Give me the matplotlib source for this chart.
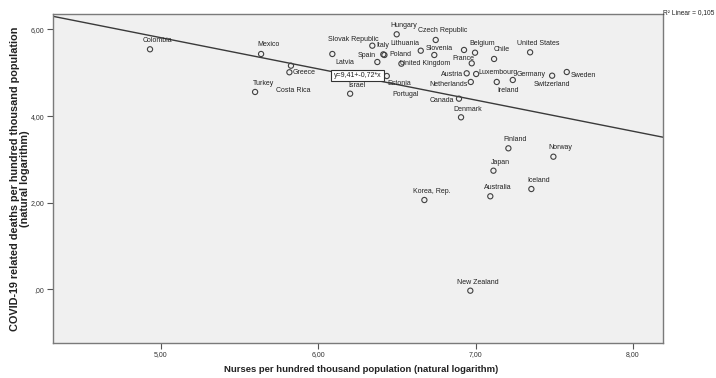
import numpy as np
import matplotlib
matplotlib.use("Agg")
import matplotlib.pyplot as plt

# OECD countries: ln(nurses per 100k) vs ln(COVID-19 deaths per 100k)
countries = [
    "Colombia", "Mexico", "Costa Rica", "Greece", "Turkey", "Slovak Republic",
    "Latvia", "Italy", "Spain", "Poland", "Hungary", "Czech Republic",
    "Lithuania", "Slovenia", "United Kingdom", "France", "Portugal", "Belgium",
    "Chile", "United States", "Austria", "Luxembourg", "Netherlands", "Ireland",
    "Germany", "Switzerland", "Sweden", "Estonia", "Israel", "Canada",
    "Denmark", "Finland", "Norway", "Japan", "Iceland", "Korea, Rep.",
    "Australia", "New Zealand",
]
nurses_ln = [
    4.930, 5.636, 5.826, 5.816, 5.598, 6.089,
    6.375, 6.343, 6.413, 6.420, 6.498, 6.746,
    6.651, 6.737, 6.528, 6.975, 6.926, 6.996,
    7.117, 7.346, 6.943, 7.003, 6.969, 7.134,
    7.236, 7.486, 7.579, 6.435, 6.202, 6.894,
    6.907, 7.208, 7.494, 7.113, 7.354, 6.674,
    7.093, 6.966,
]
deaths_ln = [
    5.543, 5.434, 5.164, 5.012, 4.557, 5.434,
    5.249, 5.626, 5.425, 5.411, 5.889, 5.758,
    5.510, 5.411, 5.210, 5.219, 5.527, 5.464,
    5.319, 5.473, 4.988, 4.972, 4.788, 4.788,
    4.834, 4.933, 5.018, 4.926, 4.517, 4.402,
    3.972, 3.256, 3.062, 2.739, 2.316, 2.062,
    2.148, -0.032,
]

# Linear fit reported on the chart
fit_intercept = 9.41
fit_slope = -0.72
r2_linear = 0.105

x_ticks = [5, 6, 7, 8]
x_tick_labels = ["5,00", "6,00", "7,00", "8,00"]
y_ticks = [0, 2, 4, 6]
y_tick_labels = [",00", "2,00", "4,00", "6,00"]

# Label placement (offset in pixels from each point)
label_offsets = {
    "Colombia": (7, 9), "Mexico": (7, 9), "Costa Rica": (2, -25),
    "Greece": (15, 0), "Turkey": (8, 8), "Slovak Republic": (21, 14),
    "Latvia": (-33, 0), "Italy": (11, 0), "Spain": (-17, -1),
    "Poland": (16, 0), "Hungary": (7, 9), "Czech Republic": (7, 9),
    "Lithuania": (-16, 7), "Slovenia": (5, 6), "United Kingdom": (24, 0),
    "France": (-8, 5), "Portugal": (-58, -45), "Belgium": (7, 9),
    "Chile": (8, 9), "United States": (8, 9), "Austria": (-15, -1),
    "Luxembourg": (22, 2), "Netherlands": (-22, -3), "Ireland": (11, -9),
    "Germany": (18, 5), "Switzerland": (0, -9), "Sweden": (17, -3),
    "Estonia": (12, -8), "Israel": (7, 8), "Canada": (-17, -2),
    "Denmark": (7, 8), "Finland": (7, 9), "Norway": (7, 9), "Japan": (7, 8),
    "Iceland": (7, 9), "Korea, Rep.": (7, 9), "Australia": (7, 9),
    "New Zealand": (7, 8),
}

label_font = ["Liberation Sans Narrow", "Liberation Sans", "DejaVu Sans"]
title_font = ["Liberation Sans", "DejaVu Sans"]
label_size = 5.0

fig = plt.figure(figsize=(7.16, 3.78), dpi=100)
fig.patch.set_facecolor("white")
ax = fig.add_axes([0.0736, 0.0926, 0.8520, 0.8704])
ax.set_facecolor("#f0f0f0")

xmin, xmax = 4.3115, 8.189
ymin, ymax = -1.240, 6.358
ax.set_xlim(xmin, xmax)
ax.set_ylim(ymin, ymax)

# Fit line across the full x range
xs = np.array([xmin, xmax])
ax.plot(xs, fit_intercept + fit_slope * xs, color="#3a3a3a", lw=1.0, zorder=2)

ax.scatter(nurses_ln, deaths_ln, s=14, facecolors="none",
           edgecolors="#404040", linewidths=0.8, zorder=3)

for name, x, y in zip(countries, nurses_ln, deaths_ln):
    dx, dy = label_offsets[name]
    ax.annotate(name, (x, y), xytext=(dx, dy), textcoords="offset pixels",
                ha="center", va="center", fontsize=label_size, color="#222222",
                family=label_font, zorder=4)

# Equation box
ax.text(6.249, 4.938, "y=9,41+-0,72*x", ha="center", va="center",
        fontsize=label_size, color="#222222", family=label_font, zorder=5,
        bbox=dict(boxstyle="square,pad=0.35", facecolor="white",
                  edgecolor="#333333", linewidth=0.8))

fig.text(663 / 716, 1 - 13 / 378,
         "R\u00b2 Linear = " + f"{r2_linear:.3f}".replace(".", ","),
         ha="left", va="center", fontsize=4.8, color="#222222",
         family=label_font)

ax.set_xticks(x_ticks)
ax.set_xticklabels(x_tick_labels)
ax.set_yticks(y_ticks)
ax.set_yticklabels(y_tick_labels)
ax.tick_params(axis="both", direction="out", length=4, width=0.8,
               color="#555555", labelsize=label_size, labelcolor="#333333", pad=2)
for lbl in ax.get_xticklabels() + ax.get_yticklabels():
    lbl.set_family(label_font)

for sp in ax.spines.values():
    sp.set_color("#7a7a7a")
    sp.set_linewidth(1.0)

ax.set_xlabel("Nurses per hundred thousand population (natural logarithm)",
              fontsize=6.8, fontweight="bold", color="#222222",
              family=title_font, va="center")
ax.xaxis.set_label_coords(0.505, -0.080)
ax.set_ylabel("COVID-19 related deaths per hundred thousand population\n(natural logarithm)",
              fontsize=7.8, fontweight="bold", color="#222222",
              family=title_font, linespacing=1.0, va="center")
ax.yaxis.set_label_coords(-0.053, 0.5)

fig.savefig("out.png", dpi=100, facecolor="white")
